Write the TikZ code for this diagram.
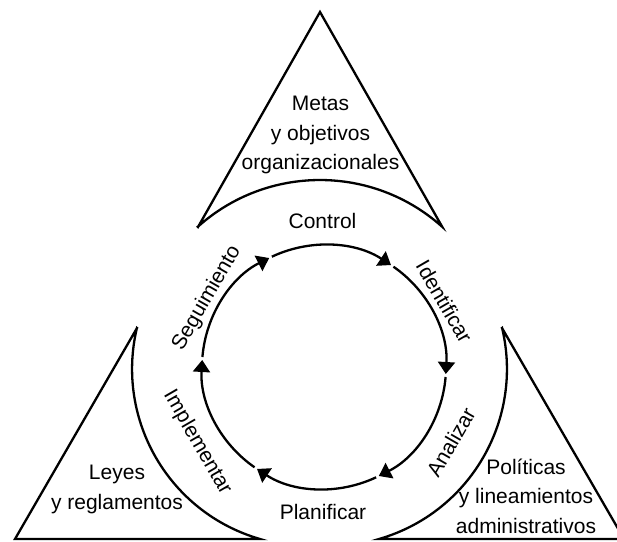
\documentclass[tikz,border=0pt]{standalone}
\usepackage{fontspec}
\setmainfont{Liberation Sans}
\usetikzlibrary{arrows.meta,calc}
\begin{document}
\begin{tikzpicture}[x=1pt,y=1pt,line width=2.3pt,
  lbl/.style={font=\fontsize{21}{29.5}\selectfont, inner sep=0pt, align=center},
  rlbl/.style={font=\fontsize{21}{25}\selectfont, inner sep=0pt, text height=15pt, text depth=0pt},
  cyc/.style={-{Triangle[width=17pt,length=12pt]}},
  tri/.style={line join=miter}]
\useasboundingbox (0,0) rectangle (617,541);
\clip (0,0) rectangle (617,541);
\coordinate (C) at (324,174);

% top triangle
\coordinate (tA) at (320,529);
\coordinate (tL) at (198,314);
\coordinate (tR) at (442.2,314.2);
\draw[tri] (tL) -- (tA) -- (tR) arc[start angle=48.1, end angle=131.9, radius=183] -- cycle;

% left triangle
\coordinate (lA) at (137,213);
\coordinate (lB) at (15,2);
\coordinate (lE) at (260,2);
\draw[tri] (lA) -- (lB) -- (lE) arc[start angle=253.9, end angle=166.6, radius=177] -- cycle;

% right triangle
\coordinate (rA) at (502,213);
\coordinate (rB) at (624,2);
\coordinate (rE) at (379,2);
\draw[tri] (rA) -- (rB) -- (rE) arc[start angle=-73.9, end angle=13.4, radius=177] -- cycle;

% cycle arcs
\foreach \a [count=\i] in {120,60,0,-60,-120,-180}{
  \pgfmathsetmacro\sa{\a-4.7}
  \pgfmathsetmacro\ea{\a-63.3}
  \path (C) ++(\sa:122) coordinate (s\i);
  \draw[cyc] (s\i) arc[start angle=\sa, end angle=\ea, radius=122];
}

% labels
\node[lbl, anchor=north] (metas) at (320.5,446) {Metas\\y objetivos\\organizacionales};
\node[lbl, anchor=base] (control) at (322.5,312) {Control};
\node[lbl, anchor=base] (plan) at (323,22) {Planificar};
\node[lbl, anchor=north] (leyes) at (117,77) {Leyes\\y reglamentos};
\node[lbl, anchor=north] (pol) at (526,83.5) {Políticas\\y lineamientos\\administrativos};

\node[rlbl, rotate=60] (seg) at ($(C)+(149.5:138)$) {Seguimiento};
\node[rlbl, rotate=-60] (ident) at ($(C)+(28.5:137)$) {Identificar};
\node[rlbl, rotate=60] (anal) at ($(C)+(-30.6:147.5)$) {Analizar};
\node[rlbl, rotate=-60] (impl) at ($(C)+(210.8:145.5)$) {Implementar};
\end{tikzpicture}
\end{document}
